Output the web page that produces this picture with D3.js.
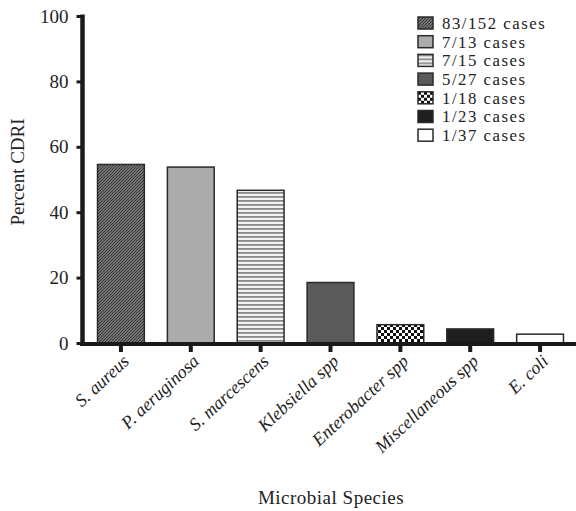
<!DOCTYPE html>
<html><head><meta charset="utf-8">
<script src="https://cdn.jsdelivr.net/npm/d3@7"></script>
<style>body{margin:0;background:#fff}svg{display:block}svg text{font-family:"Liberation Serif",serif !important}</style>
</head><body>
<svg id="c" width="576" height="511"></svg>
<script>
const categories = ["S. aureus","P. aeruginosa","S. marcescens","Klebsiella spp","Enterobacter spp","Miscellaneous spp","E. coli"];
const values = [54.6, 53.8, 46.7, 18.5, 5.6, 4.3, 2.7];
const legendLabels = ["83/152 cases","7/13 cases","7/15 cases","5/27 cases","1/18 cases","1/23 cases","1/37 cases"];
const yTicks = [0,20,40,60,80,100];

const fills = ["url(#pDiag)","#acacac","url(#pHoriz)","#5a5a5a","url(#pCheck)","#1e1e1e","#ffffff"];

const svg = d3.select("#c");
const defs = svg.append("defs");
const pd = defs.append("pattern").attr("id","pDiag").attr("patternUnits","userSpaceOnUse").attr("width",3).attr("height",3);
pd.append("rect").attr("width",3).attr("height",3).attr("fill","#8c8c8c");
pd.append("path").attr("d","M-1,1 l2,-2 M0,3 l3,-3 M2,4 l2,-2").attr("stroke","#333").attr("stroke-width",1.1);
const ph = defs.append("pattern").attr("id","pHoriz").attr("patternUnits","userSpaceOnUse").attr("width",4).attr("height",4);
ph.append("rect").attr("width",4).attr("height",4).attr("fill","#f4f4f4");
ph.append("rect").attr("y",0).attr("width",4).attr("height",1.8).attr("fill","#8a8a8a");
const pc = defs.append("pattern").attr("id","pCheck").attr("patternUnits","userSpaceOnUse").attr("width",6).attr("height",6);
pc.append("rect").attr("width",6).attr("height",6).attr("fill","#fff");
pc.append("rect").attr("width",3).attr("height",3).attr("fill","#111");
pc.append("rect").attr("x",3).attr("y",3).attr("width",3).attr("height",3).attr("fill","#111");

const x = d3.scaleBand().domain(categories).range([86, 575]).paddingInner(0.33).paddingOuter(0.165);
const y = d3.scaleLinear().domain([0,100]).range([343, 16]);

svg.append("g").selectAll("rect").data(categories).join("rect")
  .attr("x", d => x(d))
  .attr("width", x.bandwidth())
  .attr("y", (d,i) => y(values[i]))
  .attr("height", (d,i) => y(0) - y(values[i]))
  .attr("fill", (d,i) => fills[i])
  .attr("stroke", "#2a2a2a").attr("stroke-width", 1.5);

const ya = svg.append("g").attr("transform","translate(82.5,0)")
  .call(d3.axisLeft(y).tickValues(yTicks).tickSize(6).tickPadding(8).tickFormat(d3.format("d")));
ya.attr("font-family",null);
ya.select(".domain").remove();
ya.selectAll(".tick line").attr("stroke","#1a1a1a").attr("stroke-width",3);
ya.selectAll(".tick text").attr("font-size",19).attr("fill","#222");
svg.append("line").attr("x1",82.5).attr("x2",82.5).attr("y1",y(100)-1.5).attr("y2",y(0)+2.5)
  .attr("stroke","#1a1a1a").attr("stroke-width",4.5);

const xa = svg.append("g").attr("transform","translate(0,344)")
  .call(d3.axisBottom(x).tickSize(8).tickFormat(""));
xa.select(".domain").remove();
xa.selectAll(".tick line").attr("stroke","#1a1a1a").attr("stroke-width",4);
svg.append("line").attr("x1",80).attr("x2",576).attr("y1",344).attr("y2",344)
  .attr("stroke","#1a1a1a").attr("stroke-width",4);

svg.append("g").selectAll("text").data(categories).join("text")
  .attr("transform", d => `translate(${x(d)+x.bandwidth()/2+5},${358}) rotate(-43)`)
  .attr("text-anchor","end").attr("dy","0.35em")
  .attr("font-style","italic").attr("font-size",18).attr("fill","#222")
  .text(d => d);

svg.append("text").attr("transform","translate(24,172) rotate(-90)").attr("text-anchor","middle")
  .attr("font-size",19).attr("fill","#222").text("Percent CDRI");
svg.append("text").attr("x",331).attr("y",504).attr("text-anchor","middle")
  .attr("font-size",19).attr("letter-spacing",0.5).attr("fill","#222").text("Microbial Species");

const lg = svg.append("g").attr("transform","translate(418,17)");
const rows = lg.selectAll("g").data(legendLabels).join("g").attr("transform",(d,i)=>`translate(0,${i*18.7})`);
rows.append("rect").attr("width",15).attr("height",12).attr("fill",(d,i)=>fills[i])
  .attr("stroke","#2a2a2a").attr("stroke-width",1.5);
rows.append("text").attr("x",24).attr("y",6).attr("dy","0.35em")
  .attr("font-size",16.8).attr("letter-spacing",1.5).attr("fill","#222").text(d=>d);
</script>
</body></html>
